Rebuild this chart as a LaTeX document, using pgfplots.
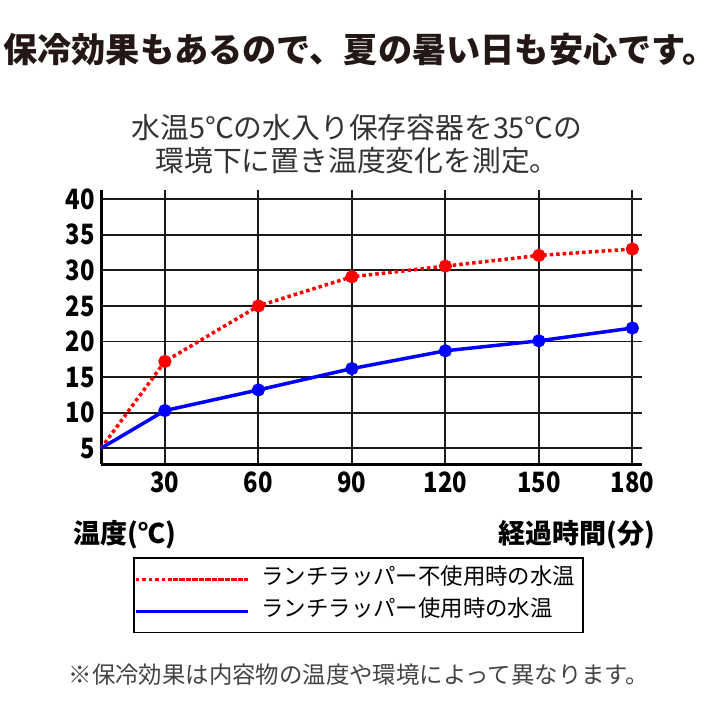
\documentclass[border=0pt]{standalone}
\usepackage{fontspec}
\setmainfont{Noto Sans CJK JP}
\newfontfamily\numfont[FakeStretch=0.85]{Noto Sans CJK JP}
\usepackage{pgfplots}
\pgfplotsset{compat=1.18}
\definecolor{titlec}{HTML}{231815}
\definecolor{subc}{HTML}{333333}
\definecolor{notec}{HTML}{444444}
\definecolor{gridc}{HTML}{1A1A1A}
\begin{document}
\begin{tikzpicture}[x=1bp,y=1bp]
\fill[white] (0,0) rectangle (720,720);
\useasboundingbox (0,0) rectangle (720,720);
\node[font=\bfseries\fontsize{34.2bp}{36bp}\selectfont, text=titlec] at (360,670) {保冷効果もあるので、夏の暑い日も安心です。};
\node[font=\fontsize{28.8bp}{33bp}\selectfont, text=subc, align=center] at (357,575.5) {水温5℃の水入り保存容器を35℃の\\環境下に置き温度変化を測定。};
\node[font=\fontsize{23.4bp}{24bp}\selectfont, text=notec] at (359,45) {※保冷効果は内容物の温度や環境によって異なります。};
\begin{axis}[
  at={(101bp,255.7bp)}, anchor=south west,
  scale only axis, width=540.7bp, height=274.3bp,
  xmin=9.5, xmax=183, ymin=2.75, ymax=41.3,
  axis x line=bottom, axis y line=left,
  axis line style={-, line width=3bp, black},
  xtick={30,60,90,120,150,180}, ytick={5,10,15,20,25,30,35,40},
  major tick length=0pt,
  grid=major, grid style={line width=1.8bp, gridc},
  /pgf/number format/assume math mode=true,
  ticklabel style={font=\numfont\bfseries\fontsize{28bp}{28bp}\selectfont, text=black},
  xticklabel style={anchor=north, inner sep=0pt, yshift=-7bp},
  yticklabel style={anchor=east, inner sep=0pt, xshift=-6bp},
  xlabel={経過時間(分)}, ylabel={温度(℃)},
  label style={font=\bfseries\fontsize{27bp}{28bp}\selectfont},
  xlabel style={at={(axis description cs:1,0)}, anchor=east, yshift=-70bp, xshift=14bp, inner sep=0pt},
  ylabel style={at={(axis description cs:0,0)}, anchor=west, rotate=-90, yshift=-70bp, xshift=-27.5bp, inner sep=0pt},
  legend cell align=left,
  legend image code/.code={\path (0bp,0bp) -- (112bp,0bp); \draw[#1] (37bp,0bp) -- (112bp,0bp);},
  legend style={at={(axis description cs:0.0597,-0.339)}, anchor=north west,
    draw=black, line width=1.5bp, inner xsep=0pt, inner ysep=10bp,
    font=\fontsize{22.4bp}{24bp}\selectfont,
    nodes={inner sep=0pt, text height=16.5bp, text depth=6bp},
    column sep=12bp, row sep=9.5bp},
  clip=false,
]
\addplot[red, line width=3.5bp, dash pattern=on 3.5bp off 3bp, mark=*, mark size=4.8bp,
  mark options={solid, fill=red, draw=none}, mark indices={2,3,4,5,6,7}]
  coordinates {(9.5,5) (30,17.2) (60,25) (90,29.1) (120,30.6) (150,32.1) (180,33.0)};
\addlegendentry{ランチラッパー不使用時の水温\hspace*{8bp}}
\addplot[blue, line width=3.5bp, mark=*, mark size=4.8bp,
  mark options={solid, fill=blue, draw=none}, mark indices={2,3,4,5,6,7}]
  coordinates {(9.5,5) (30,10.3) (60,13.2) (90,16.2) (120,18.7) (150,20.1) (180,21.9)};
\addlegendentry{ランチラッパー使用時の水温}
\end{axis}
\end{tikzpicture}
\end{document}
